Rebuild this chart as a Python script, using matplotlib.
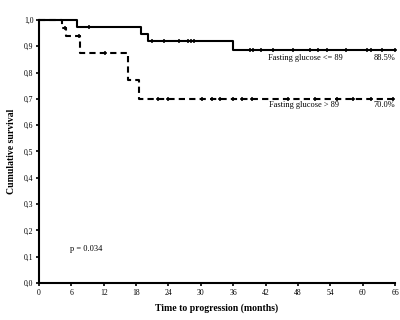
import matplotlib
matplotlib.use("Agg")
import matplotlib.pyplot as plt
from matplotlib.ticker import FuncFormatter

# Kaplan-Meier step data (time in months, survival)
low_t = [0, 7, 19, 20.2, 36, 66]
low_s = [1.0, 0.975, 0.947, 0.92, 0.885, 0.885]
low_cens_t = [9.3, 21, 23.2, 26, 27.6, 28.2, 28.8, 39.1, 39.7, 41.2, 43.4, 47.1,
              50.3, 51.8, 53.4, 57, 60.8, 61.6, 63.6, 66]

high_t = [0, 4.2, 5.0, 7.6, 16.5, 18.6, 66]
high_s = [1.0, 0.97, 0.94, 0.875, 0.77, 0.70, 0.70]
high_cens_t = [4.8, 7.4, 12.2, 22, 23.9, 30.2, 32, 33.6, 36, 37.6, 39.5, 46.2,
               51.2, 55.3, 58.3, 61.6, 65.7]

x_ticks = list(range(0, 67, 6))
y_ticks = [i / 10 for i in range(11)]


def surv_at(times, surv, t):
    val = surv[0]
    for ti, si in zip(times, surv):
        if t >= ti:
            val = si
    return val


plt.rcParams['font.family'] = ['Liberation Serif', 'DejaVu Serif']
fig = plt.figure(figsize=(4, 3.2), dpi=100)
ax = fig.add_axes([0.0975, 0.1156, 0.89, 0.822])

ax.step(low_t, low_s, where='post', color='black', lw=1.5, clip_on=False)
ax.plot(low_cens_t, [surv_at(low_t, low_s, t) for t in low_cens_t], ls='none',
        marker='+', ms=3.2, mew=1.1, color='black', clip_on=False)

ax.step(high_t, high_s, where='post', color='black', lw=1.5, ls=(0, (3, 2)), clip_on=False)
ax.plot(high_cens_t, [surv_at(high_t, high_s, t) for t in high_cens_t], ls='none',
        marker='+', ms=3.2, mew=1.1, color='black', clip_on=False)

ax.set_xlim(0, 66)
ax.set_ylim(0, 1.0)
ax.set_xticks(x_ticks)
ax.set_yticks(y_ticks)
ax.yaxis.set_major_formatter(FuncFormatter(lambda v, p: f"{v:.1f}".replace('.', ',')))
ax.tick_params(labelsize=5.5, length=2.5, width=1.2, pad=1.5)
for side in ['top', 'right']:
    ax.spines[side].set_visible(False)
for side in ['left', 'bottom']:
    ax.spines[side].set_linewidth(1.5)

ax.set_xlabel("Time to progression (months)", fontsize=7, fontweight='bold', labelpad=5)
ax.set_ylabel("Cumulative survival", fontsize=7, fontweight='bold', labelpad=6)

ax.text(42.5, 0.855, "Fasting glucose <= 89", fontsize=6, va='center')
ax.text(66, 0.855, "88.5%", fontsize=6, va='center', ha='right')
ax.text(42.7, 0.675, "Fasting glucose > 89", fontsize=6, va='center')
ax.text(66, 0.675, "70.0%", fontsize=6, va='center', ha='right')
ax.text(5.7, 0.13, "p = 0.034", fontsize=6, va='center')

fig.savefig("out.png", dpi=100)
